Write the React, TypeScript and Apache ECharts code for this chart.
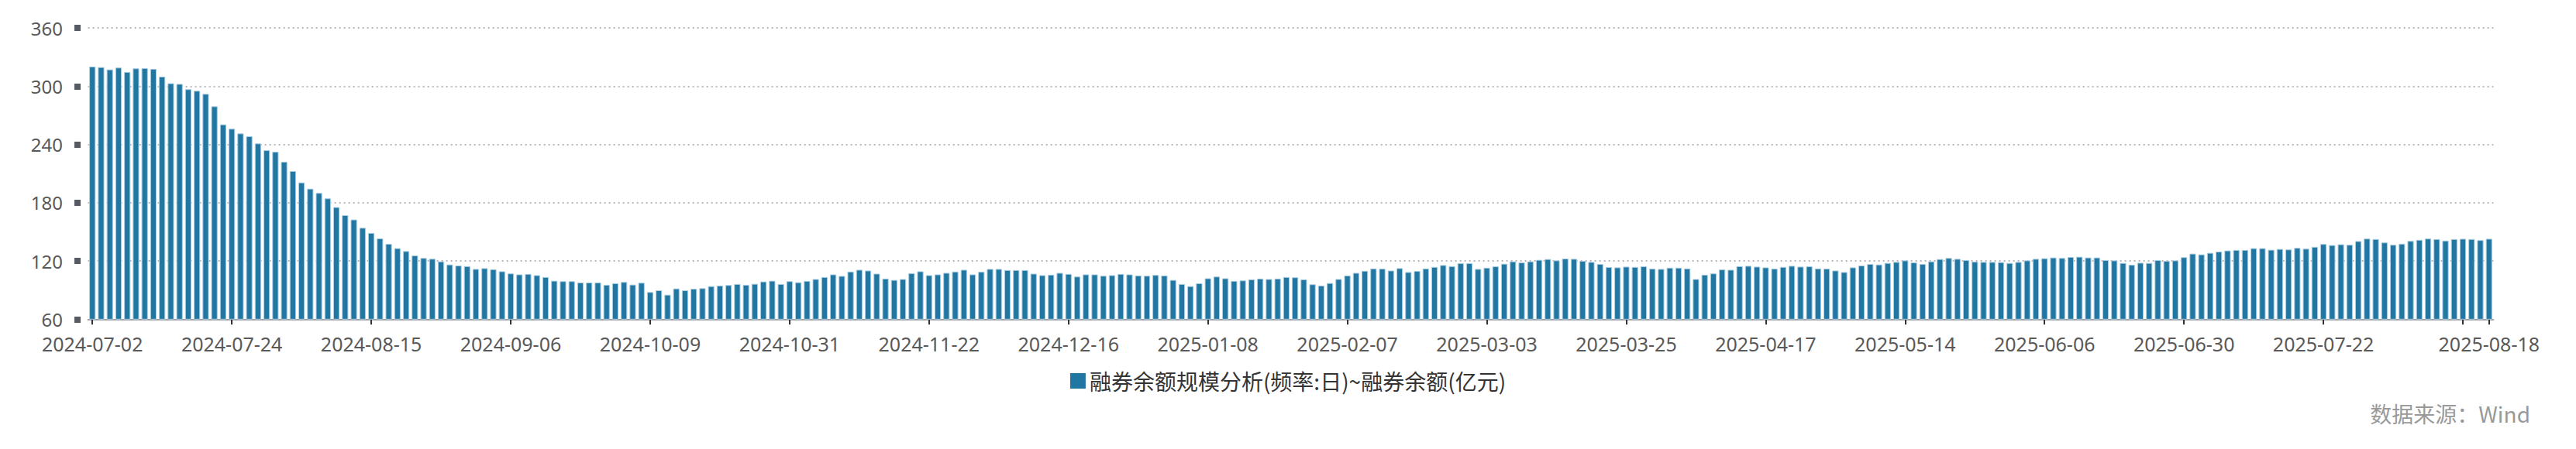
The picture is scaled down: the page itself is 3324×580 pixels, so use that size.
import React, { useEffect, useRef } from "react";
import * as echarts from "echarts";

// ---- data ----
const START_DATE = "2024-07-02";
const END_DATE = "2025-08-18";
const HOLIDAYS = [
  "2024-09-16", "2024-09-17",
  "2024-10-01", "2024-10-02", "2024-10-03", "2024-10-04", "2024-10-07",
  "2025-01-01",
  "2025-01-28", "2025-01-29", "2025-01-30", "2025-01-31", "2025-02-03", "2025-02-04",
  "2025-04-04",
  "2025-05-01", "2025-05-02", "2025-05-05",
  "2025-06-02",
];

// 融券余额 (亿元), one value per trading day
const values2024Q3a = [
  320.1, 319.6, 317.2, 319.1, 314.6, 318.3, 318.5, 317.7, 309.8, 302.9,
  302.3, 296.8, 295.2, 292.0, 279.2, 260.6, 256.1, 251.3, 248.4, 241.0,
  234.0, 232.4, 222.1, 212.5, 200.8, 194.4, 190.0, 184.4, 175.4, 167.1,
  162.6, 154.1, 148.8, 143.2, 137.6, 133.1, 130.1, 125.6, 123.0, 122.2,
  119.5, 116.3, 115.2, 114.6,
];
const values2024Q3b = [
  111.7, 112.5, 111.4, 109.3, 107.1, 106.1, 106.6, 105.3, 103.4, 99.6,
  99.1, 99.1, 97.8, 97.8, 97.8, 95.4, 97.0, 98.3, 95.6, 97.5,
  87.9, 89.7, 85.2, 91.6, 89.7, 91.3, 91.9, 94.0, 94.6, 95.1,
  96.2, 95.4, 96.4, 98.8, 99.6, 96.2, 99.1, 98.0, 99.4,
];
const values2024Q4 = [
  101.3, 103.4, 106.1, 104.5, 109.0, 110.9, 110.1, 106.9, 101.8, 100.4,
  101.3, 107.4, 109.3, 105.3, 106.1, 107.7, 109.0, 110.9, 106.1, 108.8,
  111.7, 111.7, 110.6, 110.6, 110.6, 106.9, 105.3, 105.8, 107.7, 106.6,
  103.9, 106.1, 106.1, 104.7, 105.3, 106.6, 106.1, 105.0, 104.7,
];
const values2025Q1a = [
  105.5, 105.0, 100.4, 96.2, 94.0, 97.0, 102.1, 103.9, 102.1, 99.4,
  99.9, 101.0, 101.8, 101.3, 101.8, 103.4, 103.1, 101.0, 95.9, 94.6,
  97.2, 101.3, 105.0, 107.7, 109.8, 112.2, 112.0, 110.1, 112.5, 108.5,
  109.6, 112.2, 113.8, 115.7, 114.6, 117.6, 117.6, 111.7, 113.0,
];
const values2025Q1b = [
  114.4, 117.1, 119.5, 118.4, 119.5, 121.1, 121.9, 120.5, 122.4, 122.1,
  120.0, 118.9, 116.8, 113.6, 113.3, 114.1, 113.8, 114.4, 112.0, 111.7,
  113.0, 113.0, 112.2, 101.3, 105.8, 107.1, 111.2, 110.9, 114.6, 114.9,
  114.1, 113.3, 112.0, 113.8, 114.9, 114.1, 114.4, 112.2, 112.0,
];
const values2025Q2 = [
  110.1, 108.5, 113.3, 115.2, 116.8, 116.3, 117.9, 118.9, 120.5, 118.4,
  116.8, 119.5, 121.9, 123.0, 122.1, 120.8, 119.2, 118.9, 118.9, 118.7,
  117.9, 118.9, 120.5, 122.1, 122.7, 123.5, 123.0, 124.0, 124.3, 123.5,
  123.5, 120.8, 120.5, 117.9, 116.0, 118.1, 117.9, 120.8, 120.0,
];
const values2025Q3 = [
  120.5, 123.8, 127.5, 126.7, 128.3, 129.6, 130.7, 131.3, 131.3, 133.1,
  133.1, 131.5, 132.3, 131.8, 133.4, 132.6, 134.5, 137.4, 136.3, 137.1,
  136.6, 140.4, 143.0, 142.5, 139.0, 136.6, 137.7, 140.6, 141.7, 143.0,
  142.5, 140.9, 142.5, 142.8, 142.5, 141.4, 142.8,
];

const Y_MIN = 60;
const Y_MAX = 360;
const Y_STEP = 60;
const LABEL_EVERY = 16;
const SERIES_NAME = "融券余额规模分析(频率:日)~融券余额(亿元)";
const SOURCE_TEXT = "数据来源：Wind";

function tradingDays(start: string, end: string, holidays: string[]): string[] {
  const out: string[] = [];
  const hs = new Set(holidays);
  const d = new Date(start + "T00:00:00Z");
  const e = new Date(end + "T00:00:00Z");
  while (d.getTime() <= e.getTime()) {
    const wd = d.getUTCDay();
    const s = d.toISOString().slice(0, 10);
    if (wd !== 0 && wd !== 6 && !hs.has(s)) out.push(s);
    d.setUTCDate(d.getUTCDate() + 1);
  }
  return out;
}

const categories = tradingDays(START_DATE, END_DATE, HOLIDAYS);
const values = [
  ...values2024Q3a,
  ...values2024Q3b,
  ...values2024Q4,
  ...values2025Q1a,
  ...values2025Q1b,
  ...values2025Q2,
  ...values2025Q3,
];

const LATIN = "'Noto Sans', 'Open Sans', 'Noto Sans CJK SC', sans-serif";
const CJK = "'Noto Sans CJK SC', 'Noto Sans', sans-serif";

export default function App() {
  const ref = useRef<HTMLDivElement>(null);

  useEffect(() => {
    document.body.style.margin = "0";
    if (!ref.current) return;
    const chart = echarts.init(ref.current, undefined, { renderer: "svg" });
    const last = categories.length - 1;
    chart.setOption({
      animation: false,
      backgroundColor: "#ffffff",
      grid: { left: 113.6, right: 106.6, top: 36, bottom: 167.7, containLabel: false },
      legend: {
        top: 473,
        left: "center",
        icon: "rect",
        itemWidth: 20,
        itemHeight: 20,
        itemGap: 10,
        itemStyle: { borderWidth: 0 },
        textStyle: { fontSize: 28, color: "#333", fontFamily: CJK },
        data: [SERIES_NAME],
      },
      xAxis: {
        type: "category",
        data: categories,
        boundaryGap: true,
        axisLine: { show: true, lineStyle: { color: "#a0a0a6", width: 2 } },
        axisTick: {
          show: true,
          alignWithLabel: true,
          length: 7,
          interval: (i: number) => i % LABEL_EVERY === 0 || i === last,
          lineStyle: { color: "#333", width: 2 },
        },
        axisLabel: {
          interval: (i: number) =>
            (i % LABEL_EVERY === 0 && last - i >= LABEL_EVERY / 2) || i === last,
          fontSize: 25,
          color: "#595959",
          fontFamily: LATIN,
          margin: 19,
        },
        splitLine: { show: false },
      },
      yAxis: {
        type: "value",
        min: Y_MIN,
        max: Y_MAX,
        interval: Y_STEP,
        offset: 9.6,
        axisLine: { show: false },
        axisTick: { show: true, length: 8, lineStyle: { color: "#555a63", width: 8 } },
        axisLabel: { fontSize: 24, color: "#595959", fontFamily: LATIN, margin: 23 },
        splitLine: {
          show: true,
          lineStyle: { color: "#a0a0a8", width: 1.7, type: [2, 4] },
        },
      },
      series: [
        {
          name: SERIES_NAME,
          type: "bar",
          data: values,
          barWidth: 8.2,
          itemStyle: { color: "#2276a2", borderColor: "#a9cde0", borderWidth: 1 },
        },
      ],
      graphic: [
        {
          type: "text",
          right: 59,
          top: 520,
          style: { text: SOURCE_TEXT, font: `28px ${CJK}`, fill: "#999999" },
        },
      ],
    });
    return () => chart.dispose();
  }, []);

  return <div ref={ref} style={{ width: 3324, height: 580 }} />;
}
